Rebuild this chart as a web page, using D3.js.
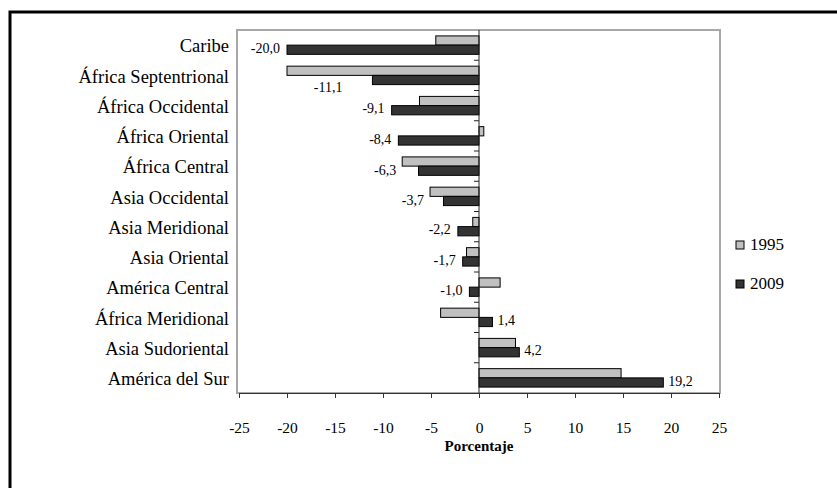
<!DOCTYPE html>
<html>
<head>
<meta charset="utf-8">
<script src="https://cdn.jsdelivr.net/npm/d3@7/dist/d3.min.js"></script>
<style>
  html, body { margin: 0; padding: 0; background: #fff; }
  svg { display: block; }
  text { font-family: "Liberation Serif", "Times New Roman", serif; fill: #000; }
</style>
</head>
<body>
<svg id="chart" width="837" height="488"></svg>
<script>
const categories = ["Caribe", "África Septentrional", "África Occidental", "África Oriental",
  "África Central", "Asia Occidental", "Asia Meridional", "Asia Oriental",
  "América Central", "África Meridional", "Asia Sudoriental", "América del Sur"];
const values1995 = [-4.5, -20.0, -6.2, 0.5, -8.0, -5.1, -0.65, -1.3, 2.2, -4.0, 3.8, 14.8];
const values2009 = [-20.0, -11.1, -9.1, -8.4, -6.3, -3.7, -2.2, -1.7, -1.0, 1.4, 4.2, 19.2];
const labels2009 = ["-20,0", "-11,1", "-9,1", "-8,4", "-6,3", "-3,7", "-2,2", "-1,7", "-1,0", "1,4", "4,2", "19,2"];
const seriesNames = ["1995", "2009"];
const xTicks = [-25, -20, -15, -10, -5, 0, 5, 10, 15, 20, 25];
const xTitle = "Porcentaje";

const colors = {"1995": "#c0c0c0", "2009": "#333333"};

const svg = d3.select("#chart");

// outer frame (only top/left visible in view)
svg.append("rect").attr("x", 10).attr("y", 12).attr("width", 900).attr("height", 600)
  .attr("fill", "#fff").attr("stroke", "#000").attr("stroke-width", 3);

const plot = {left: 237, right: 720, top: 30, bottom: 393};

const x = d3.scaleLinear().domain([-25, 25]).range([239, 719]);
const y = d3.scaleBand().domain(categories).range([plot.top, plot.bottom])
  .paddingInner(0.39).paddingOuter(0.195);
const ySub = d3.scaleBand().domain(seriesNames).range([0, y.bandwidth()]);

// plot area border
svg.append("rect").attr("x", plot.left).attr("y", plot.top)
  .attr("width", plot.right - plot.left).attr("height", plot.bottom - plot.top)
  .attr("fill", "none").attr("stroke", "#a8a8a8").attr("stroke-width", 2);

const rows = categories.map((c, i) => ({c, v95: values1995[i], v09: values2009[i], lab: labels2009[i]}));

// bars
const g = svg.append("g");
rows.forEach(r => {
  [["1995", r.v95], ["2009", r.v09]].forEach(([s, v]) => {
    g.append("rect")
      .attr("x", x(Math.min(0, v)))
      .attr("y", y(r.c) + ySub(s))
      .attr("width", Math.abs(x(v) - x(0)))
      .attr("height", ySub.bandwidth())
      .attr("fill", colors[s])
      .attr("stroke", "#000").attr("stroke-width", 1);
  });
});

// zero axis with ticks at band boundaries
const step = y.step();
svg.append("line").attr("x1", x(0)).attr("x2", x(0)).attr("y1", plot.top).attr("y2", plot.bottom)
  .attr("stroke", "#222").attr("stroke-width", 1);
for (let i = 1; i < categories.length; i++) {
  const yy = plot.top + i * step;
  svg.append("line").attr("x1", x(0) - 5).attr("x2", x(0)).attr("y1", yy).attr("y2", yy)
    .attr("stroke", "#222").attr("stroke-width", 1);
}

// x axis
const xAxis = d3.axisBottom(x).tickValues(xTicks).tickSize(5).tickPadding(24)
  .tickFormat(d => d3.format("d")(d).replace("−", "-"));
const ax = svg.append("g").attr("transform", `translate(0,${plot.bottom})`).call(xAxis);
ax.select(".domain").attr("stroke", "#333");
ax.selectAll(".tick line").attr("stroke", "#333");
ax.selectAll(".tick text").attr("font-size", 15.5).attr("fill", "#000");

svg.append("text").attr("x", x(0)).attr("y", 451).attr("text-anchor", "middle")
  .attr("font-size", 15).attr("font-weight", "bold").text(xTitle);

// category labels
svg.append("g").selectAll("text").data(categories).join("text")
  .attr("x", 229).attr("y", d => y(d) + y.bandwidth() / 2 + 3)
  .attr("text-anchor", "end").attr("dominant-baseline", "middle")
  .attr("font-size", 18.5).text(d => d);

// value labels for 2009
rows.forEach(r => {
  const barTop = y(r.c) + ySub("2009");
  const barMid = barTop + ySub.bandwidth() / 2;
  let tx, ty, anchor;
  if (r.v09 < 0) {
    anchor = "end";
    if (r.v95 < r.v09) {
      if (r.v09 - r.v95 > 3) { tx = x(r.v09) - 30; ty = barTop + ySub.bandwidth() + 4; }
      else { tx = x(r.v95) - 6; ty = barMid + 1; }
    } else { tx = x(r.v09) - 7; ty = barMid; }
  } else {
    anchor = "start";
    tx = x(Math.max(r.v09, r.v95)) + 5; ty = barMid;
  }
  svg.append("text").attr("x", tx).attr("y", ty).attr("text-anchor", anchor)
    .attr("dominant-baseline", "middle").attr("font-size", 14).text(r.lab);
});

// legend
const leg = svg.append("g");
seriesNames.forEach((s, i) => {
  const cy = 245 + i * 39;
  leg.append("rect").attr("x", 736).attr("y", cy - 4).attr("width", 8).attr("height", 8)
    .attr("fill", colors[s]).attr("stroke", "#000").attr("stroke-width", 1);
  leg.append("text").attr("x", 750).attr("y", cy + 1).attr("dominant-baseline", "middle")
    .attr("font-size", 17).text(s);
});
</script>
</body>
</html>
